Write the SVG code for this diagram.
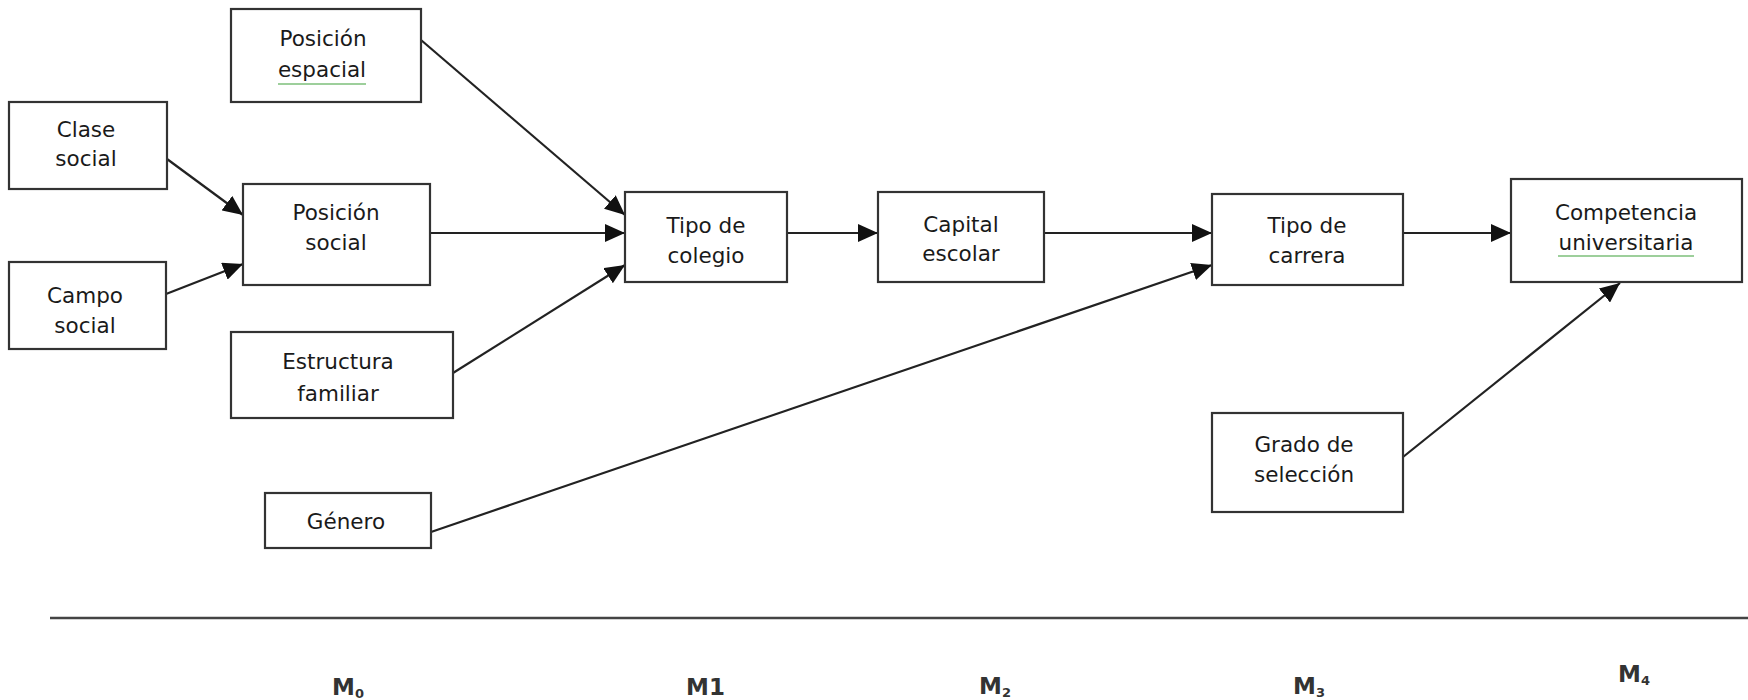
<svg xmlns="http://www.w3.org/2000/svg" width="1748" height="700" viewBox="0 0 1748 700">
<defs>
<style>
.box{fill:#fff;stroke:#333;stroke-width:2.2}
.t{font-family:"DejaVu Sans",Verdana,sans-serif;font-size:21.5px;fill:#1a1a1a;text-anchor:middle}
.c{fill:none;stroke:#222;stroke-width:2.2}
.m{font-family:"DejaVu Sans",sans-serif;font-weight:bold;font-size:23px;fill:#333}
.sub{font-size:13px}
.sp{stroke:#7cbf7a;stroke-width:1.6;fill:none}
</style>
<marker id="ah" markerWidth="20" markerHeight="18" refX="20" refY="9" orient="auto" markerUnits="userSpaceOnUse">
<path d="M0,0 L20,9 L0,18 Z" fill="#111"/>
</marker>
</defs>
<rect width="1748" height="700" fill="#fff"/>

<g id="connectors">
<line class="c" x1="167" y1="159" x2="243" y2="215" marker-end="url(#ah)"/>
<line class="c" x1="166" y1="294" x2="243" y2="264" marker-end="url(#ah)"/>
<line class="c" x1="421" y1="40" x2="625" y2="215" marker-end="url(#ah)"/>
<line class="c" x1="430" y1="233" x2="625" y2="233" marker-end="url(#ah)"/>
<line class="c" x1="453" y1="373" x2="625" y2="265" marker-end="url(#ah)"/>
<line class="c" x1="787" y1="233" x2="878" y2="233" marker-end="url(#ah)"/>
<line class="c" x1="1044" y1="233" x2="1212" y2="233" marker-end="url(#ah)"/>
<line class="c" x1="431" y1="532" x2="1212" y2="265" marker-end="url(#ah)"/>
<line class="c" x1="1403" y1="233" x2="1511" y2="233" marker-end="url(#ah)"/>
<line class="c" x1="1403" y1="457" x2="1620" y2="283" marker-end="url(#ah)"/>
</g>

<g id="posicion-espacial">
<rect class="box" x="231" y="9" width="190" height="93"/>
<text class="t" x="323" y="46">Posición</text>
<text class="t" x="322" y="77">espacial</text>
<line class="sp" x1="278" y1="84" x2="366" y2="84"/>
</g>
<g id="clase-social">
<rect class="box" x="9" y="102" width="158" height="87"/>
<text class="t" x="86" y="137">Clase</text>
<text class="t" x="86" y="166">social</text>
</g>
<g id="posicion-social">
<rect class="box" x="243" y="184" width="187" height="101"/>
<text class="t" x="336" y="220">Posición</text>
<text class="t" x="336" y="250">social</text>
</g>
<g id="campo-social">
<rect class="box" x="9" y="262" width="157" height="87"/>
<text class="t" x="85" y="303">Campo</text>
<text class="t" x="85" y="333">social</text>
</g>
<g id="estructura-familiar">
<rect class="box" x="231" y="332" width="222" height="86"/>
<text class="t" x="338" y="369">Estructura</text>
<text class="t" x="338" y="401">familiar</text>
</g>
<g id="genero">
<rect class="box" x="265" y="493" width="166" height="55"/>
<text class="t" x="346" y="529">Género</text>
</g>
<g id="tipo-colegio">
<rect class="box" x="625" y="192" width="162" height="90"/>
<text class="t" x="706" y="233">Tipo de</text>
<text class="t" x="706" y="263">colegio</text>
</g>
<g id="capital-escolar">
<rect class="box" x="878" y="192" width="166" height="90"/>
<text class="t" x="961" y="232">Capital</text>
<text class="t" x="961" y="261">escolar</text>
</g>
<g id="tipo-carrera">
<rect class="box" x="1212" y="194" width="191" height="91"/>
<text class="t" x="1307" y="233">Tipo de</text>
<text class="t" x="1307" y="263">carrera</text>
</g>
<g id="competencia-universitaria">
<rect class="box" x="1511" y="179" width="231" height="103"/>
<text class="t" x="1626" y="220">Competencia</text>
<text class="t" x="1626" y="250">universitaria</text>
<line class="sp" x1="1558" y1="256" x2="1694" y2="256"/>
</g>
<g id="grado-seleccion">
<rect class="box" x="1212" y="413" width="191" height="99"/>
<text class="t" x="1304" y="452">Grado de</text>
<text class="t" x="1304" y="482">selección</text>
</g>

<g id="timeline">
<line x1="50" y1="618" x2="1748" y2="618" stroke="#444" stroke-width="2.5"/>
<text class="m" x="332" y="695">M<tspan class="sub" dy="3">0</tspan></text>
<text class="m" x="686" y="695">M1</text>
<text class="m" x="979" y="694">M<tspan class="sub" dy="3">2</tspan></text>
<text class="m" x="1293" y="694">M<tspan class="sub" dy="3">3</tspan></text>
<text class="m" x="1618" y="682">M<tspan class="sub" dy="3">4</tspan></text>
</g>
</svg>
